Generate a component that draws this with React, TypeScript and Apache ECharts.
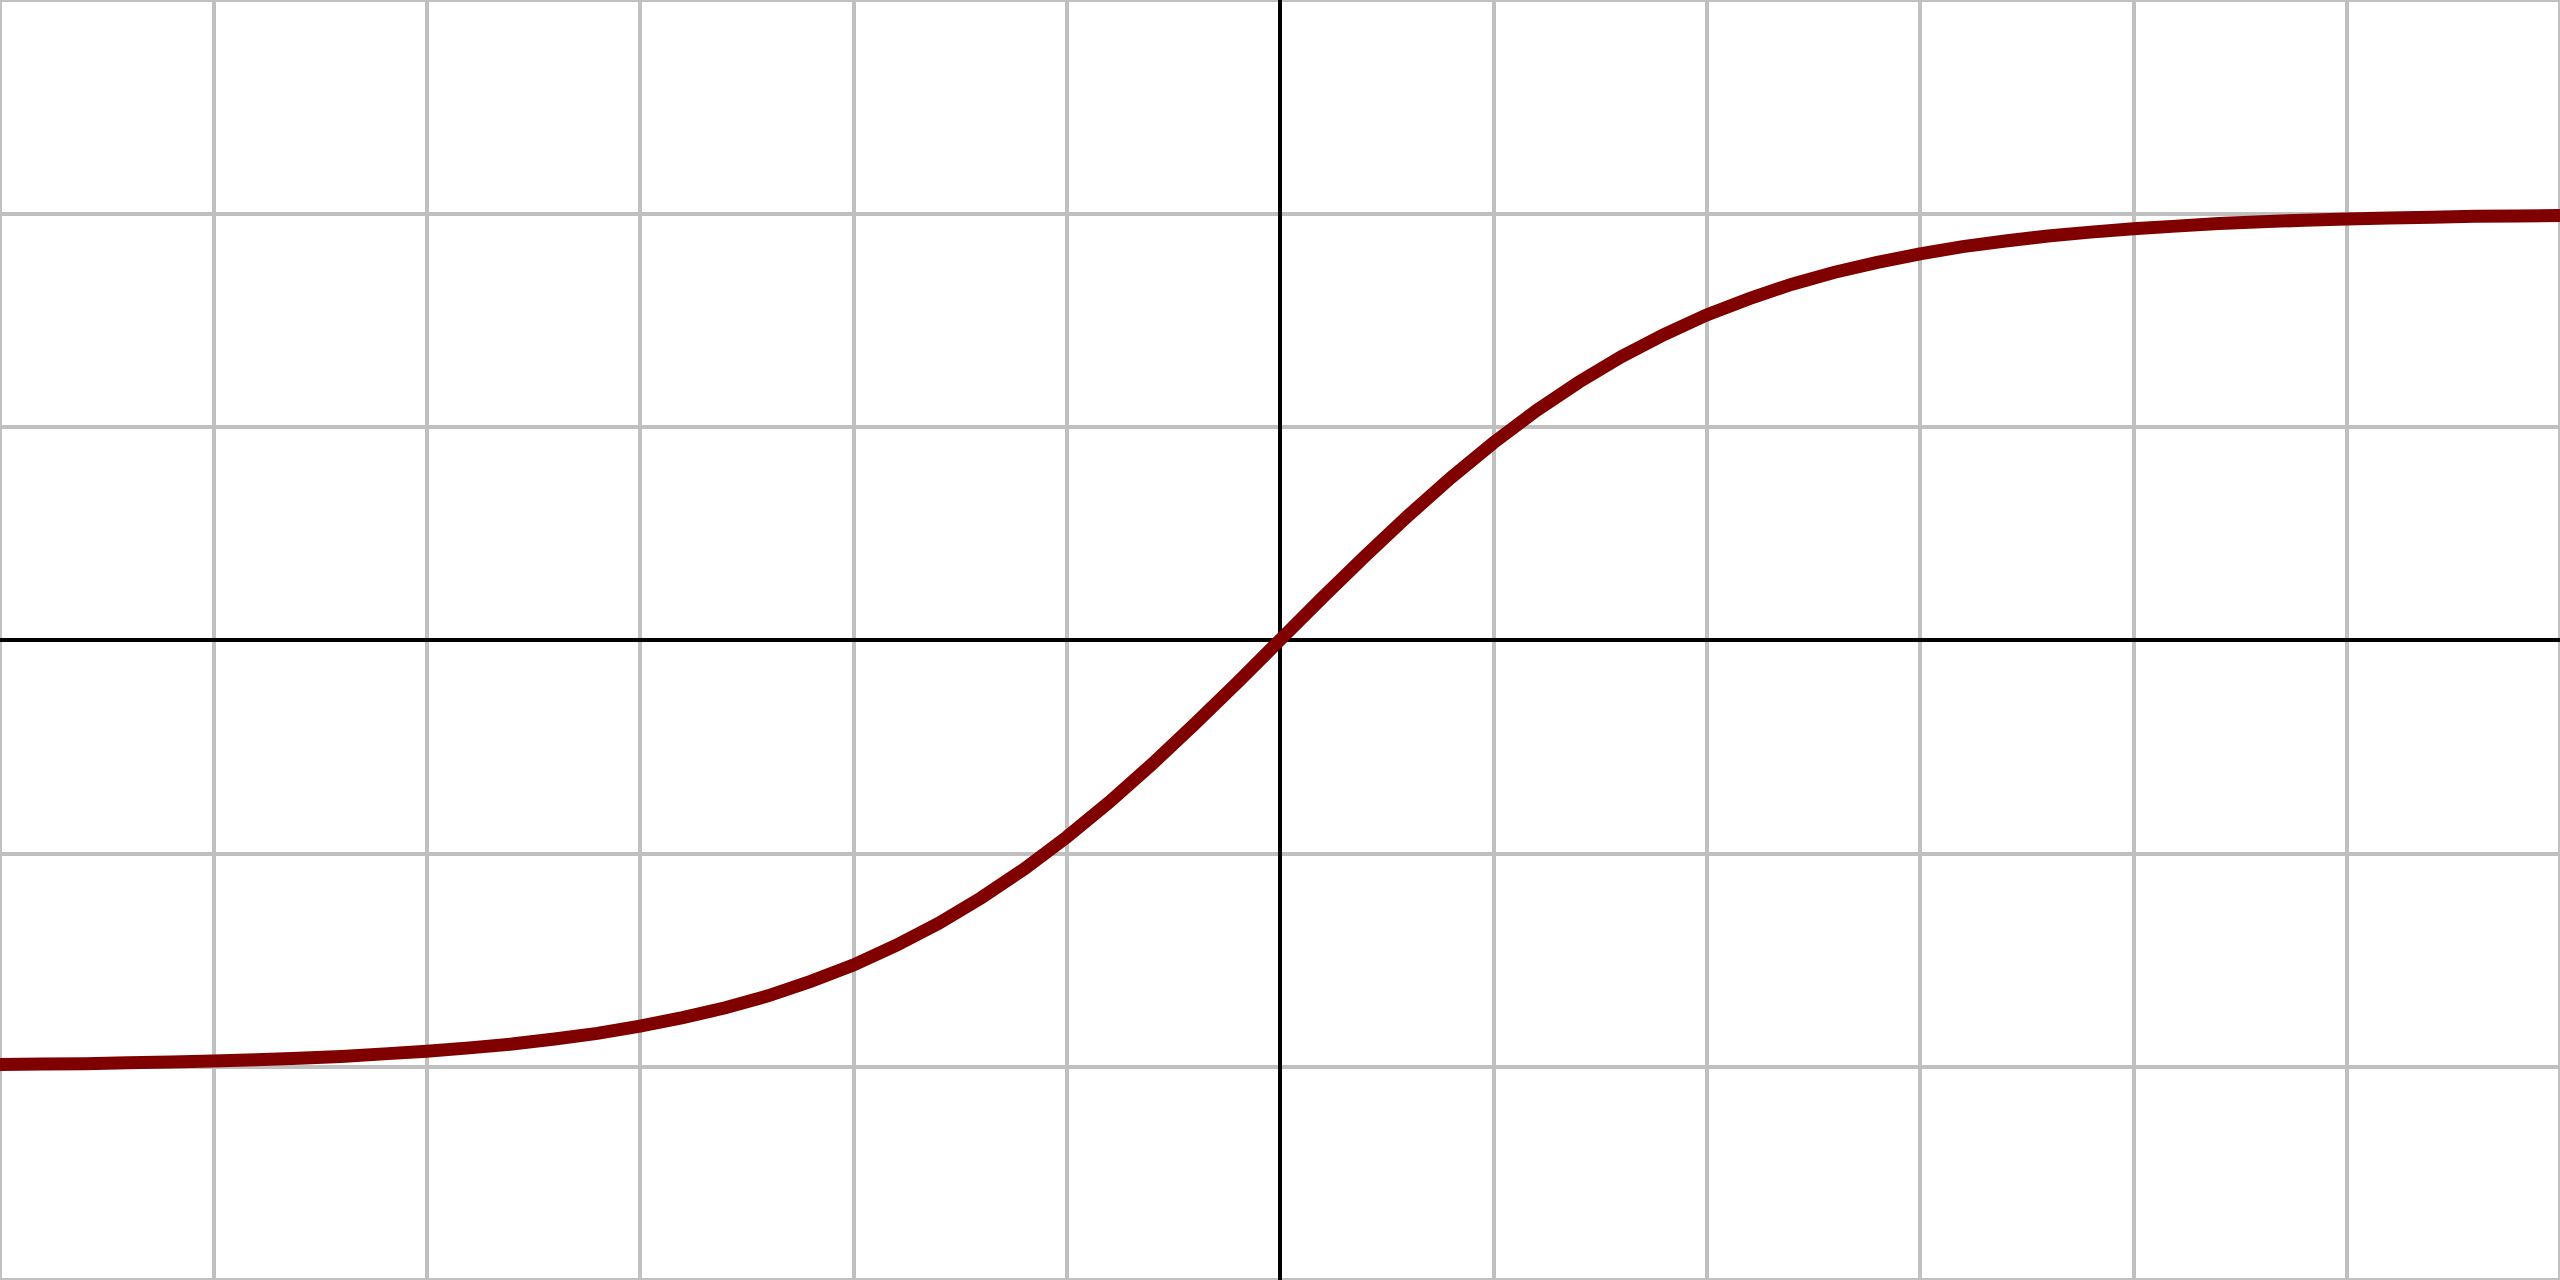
import React, { useEffect, useRef } from "react";
import * as echarts from "echarts";

// x positions (step 0.2) and values
const xValues: number[] = [
  -6.0, -5.8, -5.6, -5.4, -5.2, -5.0, -4.8, -4.6, -4.4, -4.2, -4.0, -3.8, -3.6, -3.4, -3.2, -3.0,
  -2.8, -2.6, -2.4, -2.2, -2.0, -1.8, -1.6, -1.4, -1.2, -1.0, -0.8, -0.6, -0.4, -0.2, 0.0,
  0.2, 0.4, 0.6, 0.8, 1.0, 1.2, 1.4, 1.6, 1.8, 2.0, 2.2, 2.4, 2.6, 2.8, 3.0,
  3.2, 3.4, 3.6, 3.8, 4.0, 4.2, 4.4, 4.6, 4.8, 5.0, 5.2, 5.4, 5.6, 5.8, 6.0,
];
const yValues: number[] = [
  -0.995, -0.994, -0.993, -0.991, -0.989, -0.987, -0.984, -0.98, -0.976, -0.97, -0.964, -0.956, -0.947, -0.935, -0.922, -0.905,
  -0.885, -0.862, -0.834, -0.8, -0.762, -0.716, -0.664, -0.604, -0.537, -0.462, -0.38, -0.291, -0.197, -0.1, 0.0,
  0.1, 0.197, 0.291, 0.38, 0.462, 0.537, 0.604, 0.664, 0.716, 0.762, 0.8, 0.834, 0.862, 0.885, 0.905,
  0.922, 0.935, 0.947, 0.956, 0.964, 0.97, 0.976, 0.98, 0.984, 0.987, 0.989, 0.991, 0.993, 0.994, 0.995,
];

const X_MIN = -6;
const X_MAX = 6;
const X_STEP = 1;
const Y_MIN = -1.5;
const Y_MAX = 1.5;
const Y_STEP = 0.5;

export default function App() {
  const ref = useRef<HTMLDivElement>(null);
  useEffect(() => {
    if (!ref.current) return;
    const chart = echarts.init(ref.current, null, { renderer: "svg" });
    const gridLine = { show: true, lineStyle: { color: "#c0c0c0", width: 4 } };
    const axisLine = { show: true, onZero: true, lineStyle: { color: "#000000", width: 4 } };
    chart.setOption({
      animation: false,
      backgroundColor: "#ffffff",
      grid: { left: 0, right: 0, top: 0, bottom: 0, containLabel: false },
      xAxis: {
        type: "value",
        min: X_MIN,
        max: X_MAX,
        interval: X_STEP,
        axisLabel: { show: false },
        axisTick: { show: false },
        axisLine,
        splitLine: gridLine,
      },
      yAxis: {
        type: "value",
        min: Y_MIN,
        max: Y_MAX,
        interval: Y_STEP,
        axisLabel: { show: false },
        axisTick: { show: false },
        axisLine,
        splitLine: gridLine,
      },
      series: [
        {
          type: "line",
          data: xValues.map((x, i) => [x, yValues[i]]),
          showSymbol: false,
          smooth: false,
          lineStyle: { color: "#800000", width: 13, cap: "butt", join: "miter" },
          z: 10,
        },
      ],
    });
    return () => chart.dispose();
  }, []);
  return (
    <div
      ref={ref}
      style={{ position: "fixed", left: 0, top: 0, width: 2560, height: 1280, background: "#fff" }}
    />
  );
}
